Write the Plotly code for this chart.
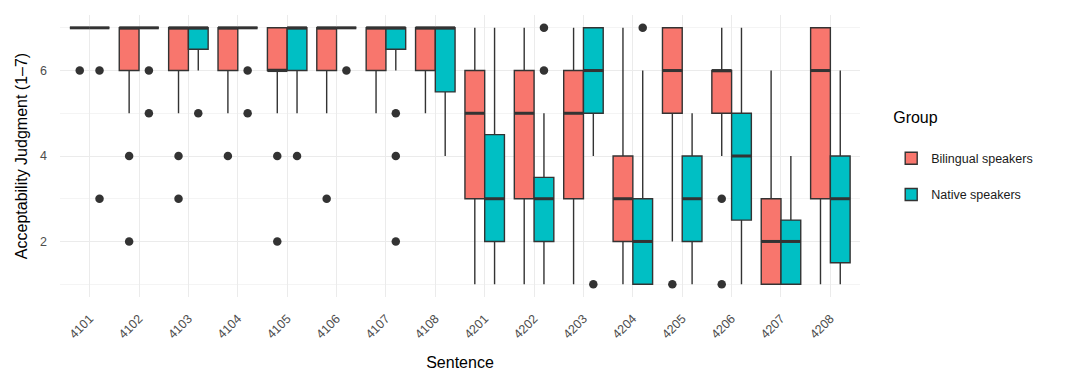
import plotly.graph_objects as go

sentences = ['4101', '4102', '4103', '4104', '4105', '4106', '4107', '4108',
             '4201', '4202', '4203', '4204', '4205', '4206', '4207', '4208']
groups = ['Bilingual speakers', 'Native speakers']

bil_q1 = [7, 6, 6, 6, 6, 6, 6, 6, 3, 3, 3, 2, 5, 5, 1, 3]
bil_med = [7, 7, 7, 7, 6, 7, 7, 7, 5, 5, 5, 3, 6, 6, 2, 6]
bil_q3 = [7, 7, 7, 7, 7, 7, 7, 7, 6, 6, 6, 4, 7, 6, 3, 7]
bil_lo = [7, 5, 5, 5, 5, 5, 5, 5, 1, 1, 1, 1, 2, 4, 1, 1]
bil_hi = [7, 7, 7, 7, 7, 7, 7, 7, 7, 7, 7, 7, 7, 7, 6, 7]
bil_out = [[6], [4, 2], [4, 3], [4], [4, 2], [3], [], [], [], [], [], [], [1], [3, 1], [], []]

nat_q1 = [7, 7, 6.5, 7, 6, 7, 6.5, 5.5, 2, 2, 5, 1, 2, 2.5, 1, 1.5]
nat_med = [7, 7, 7, 7, 7, 7, 7, 7, 3, 3, 6, 2, 3, 4, 2, 3]
nat_q3 = [7, 7, 7, 7, 7, 7, 7, 7, 4.5, 3.5, 7, 3, 4, 5, 2.5, 4]
nat_lo = [7, 7, 6, 7, 5, 7, 6, 4, 1, 1, 4, 1, 1, 1, 1, 1]
nat_hi = [7, 7, 7, 7, 7, 7, 7, 7, 7, 5, 7, 6, 5, 7, 4, 6]
nat_out = [[6, 3], [6, 5], [5], [6, 5], [4], [6], [5, 4, 2], [], [], [7, 6], [1], [7], [], [], [], []]

colors = ['#F8766D', '#00BFC4']
edge = '#333333'
BOXW = 0.4
OFFS = [-0.2, 0.2]

series = [
    (bil_q1, bil_med, bil_q3, bil_lo, bil_hi, bil_out),
    (nat_q1, nat_med, nat_q3, nat_lo, nat_hi, nat_out),
]

pos = list(range(1, len(sentences) + 1))
fig = go.Figure()

for g, (q1, med, q3, lo, hi, outs) in enumerate(series):
    xs = [p + OFFS[g] for p in pos]
    fig.add_trace(go.Box(
        x=xs, q1=q1, median=med, q3=q3, lowerfence=lo, upperfence=hi,
        width=BOXW, whiskerwidth=0, boxpoints=False,
        fillcolor=colors[g], line=dict(color=edge, width=1.4),
        name=groups[g], legendgroup=groups[g], showlegend=True,
        hoverinfo='skip',
    ))
    # thick median lines (ggplot fatten)
    mx, my = [], []
    for x, m in zip(xs, med):
        mx += [x - BOXW / 2, x + BOXW / 2, None]
        my += [m, m, None]
    fig.add_trace(go.Scatter(x=mx, y=my, mode='lines',
                             line=dict(color=edge, width=3),
                             showlegend=False, hoverinfo='skip'))
    # outliers
    ox, oy = [], []
    for x, vals in zip(xs, outs):
        for v in vals:
            ox.append(x)
            oy.append(v)
    fig.add_trace(go.Scatter(x=ox, y=oy, mode='markers',
                             marker=dict(color=edge, size=8.5),
                             showlegend=False, hoverinfo='skip'))

fig.update_layout(
    width=1081, height=372, autosize=False,
    margin=dict(l=60, r=221, t=15, b=75),
    plot_bgcolor='white', paper_bgcolor='white',
    font=dict(family='Liberation Sans, Arial, sans-serif', color='black'),
    showlegend=True,
    legend=dict(
        title=dict(text='Group<br> ', font=dict(size=16, color='black')),
        x=1.039, xanchor='left', y=0.50, yanchor='middle',
        font=dict(size=12.5, color='#1a1a1a'),
        tracegroupgap=17, itemwidth=30,
        bgcolor='rgba(0,0,0,0)',
    ),
)
fig.update_xaxes(
    range=[0.4, 16.6], tickmode='array', tickvals=pos, ticktext=sentences,
    tickangle=-45, showgrid=True, gridcolor='#EBEBEB', gridwidth=1,
    zeroline=False, showline=False, ticks='', automargin=False,
    ticklabelstandoff=11,
    tickfont=dict(size=12.5, color='#4D4D4D'),
    title=dict(text='Sentence', font=dict(size=16, color='black'), standoff=16),
)
fig.update_yaxes(
    range=[0.7, 7.3], tickmode='array', tickvals=[2, 4, 6],
    showgrid=True, gridcolor='#EBEBEB', gridwidth=1,
    minor=dict(tickmode='array', tickvals=[1, 3, 5, 7], showgrid=True,
               gridcolor='#F4F4F4', gridwidth=0.6, ticks=''),
    zeroline=False, showline=False, ticks='', automargin=False,
    ticklabelstandoff=12,
    tickfont=dict(size=12.5, color='#4D4D4D'),
    title=dict(text='Acceptability Judgment (1–7)', font=dict(size=16, color='black'), standoff=8),
)

fig.write_html('out.html', config={'displayModeBar': False},
               post_script="document.body.style.margin='0';")
